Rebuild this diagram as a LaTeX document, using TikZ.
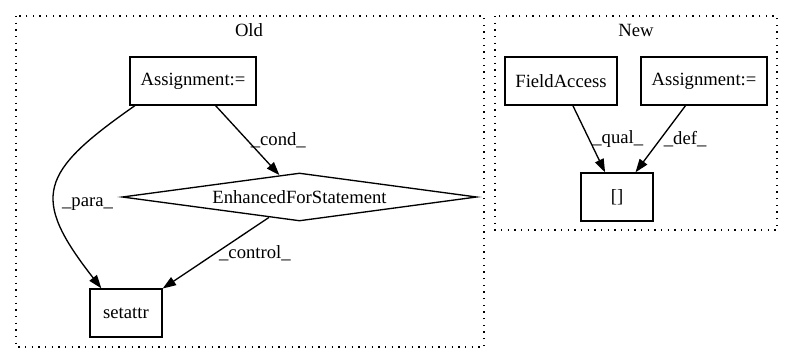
\documentclass[tikz,border=0pt]{standalone}
\usepackage{fontspec}
\setmainfont{Liberation Serif}
\usetikzlibrary{arrows.meta,shapes.geometric}

\begin{document}
\begin{tikzpicture}[
  x = 0.75pt, y = -0.75pt,
  font = \fontsize{14pt}{16pt}\selectfont,
  op/.style      = {draw, line width=1pt, minimum height=36pt, inner sep=0pt},
  cond/.style    = {op, diamond, aspect=7, minimum width=266pt},
  cluster/.style = {draw, line width=1pt, dash pattern=on 1pt off 4pt},
  dep/.style     = {-{Triangle[length=10pt,width=7pt]}, line width=1pt},
  lbl/.style     = {right, inner sep=2pt}
]
  \useasboundingbox (0,0) rectangle (793,364);

  % Old cluster
  \draw[cluster] (16,16) rectangle (484,347);
  \node (oldttl) at (249,30) {Old};
  \node[op, minimum width=94.5pt] (asgold) at (193,81)    {Assignment:=};
  \node[cond]                     (efs)    at (299.5,197) {EnhancedForStatement};
  \node[op, minimum width=54pt]   (setat)  at (126,313)   {setattr};

  \draw[dep] (asgold) -- node[lbl] {\_cond\_} (efs);
  \draw[dep] (asgold.203) to[out=215, in=128, looseness=1.6]
                          node[lbl, pos=0.6, inner sep=5pt] {\_para\_} (setat.135);
  \draw[dep] (efs) -- node[lbl] {\_control\_} (setat);

  % New cluster
  \draw[cluster] (495,16) rectangle (777,230);
  \node (newttl) at (636,30) {New};
  \node[op, minimum width=84pt]   (fld)    at (561,81)  {FieldAccess};
  \node[op, minimum width=94.5pt] (asgnew) at (704,81)  {Assignment:=};
  \node[op, minimum width=54pt]   (idx)    at (617,197) {[]};

  \draw[dep] (fld)    -- node[lbl] {\_qual\_} (idx);
  \draw[dep] (asgnew) -- node[lbl] {\_def\_}  (idx);
\end{tikzpicture}
\end{document}
